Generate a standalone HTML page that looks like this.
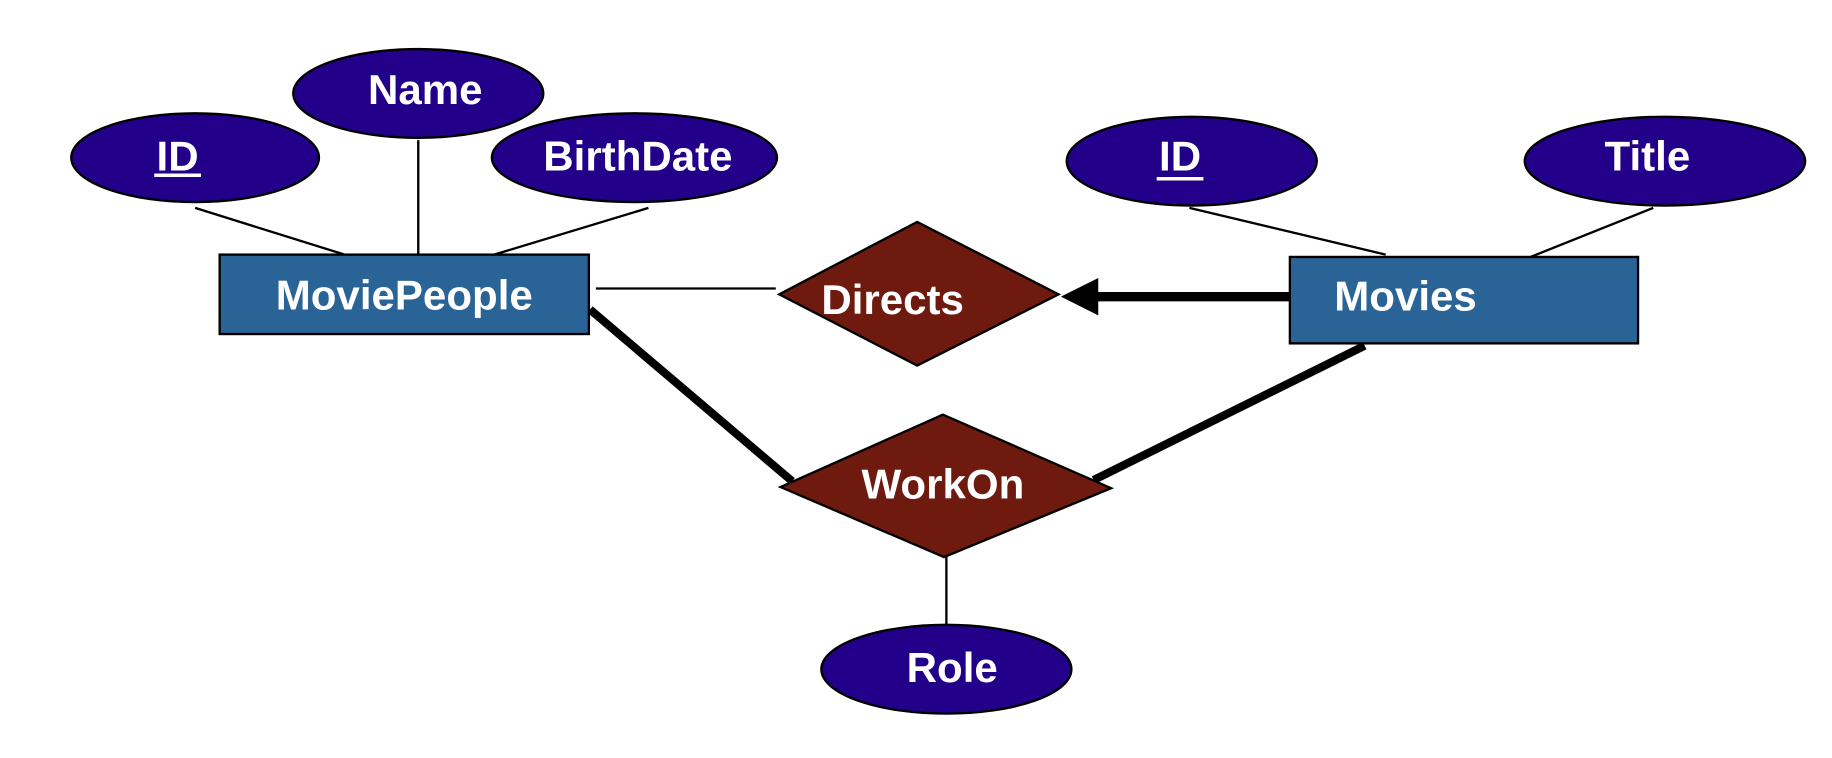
<!DOCTYPE html>
<html><head><style>html,body{margin:0;padding:0;background:#fff;}svg{display:block}</style></head>
<body>
<svg width="1832" height="758" viewBox="0 0 1568 649" preserveAspectRatio="none" xmlns="http://www.w3.org/2000/svg">
<g stroke="#000" fill="none">
<line x1="167" y1="178" x2="295" y2="218" stroke-width="2"/>
<line x1="358" y1="120" x2="358" y2="218" stroke-width="2"/>
<line x1="555" y1="178" x2="423" y2="218" stroke-width="2"/>
<line x1="1018" y1="178" x2="1186" y2="218" stroke-width="2"/>
<line x1="1415" y1="178" x2="1305" y2="222" stroke-width="2"/>
<line x1="510" y1="247" x2="664" y2="247" stroke-width="2"/>
<line x1="1104" y1="254" x2="935" y2="254" stroke-width="8"/>
<line x1="505" y1="265" x2="678" y2="412" stroke-width="7"/>
<line x1="1168" y1="296" x2="936" y2="411" stroke-width="7"/>
<line x1="810" y1="477" x2="810" y2="537" stroke-width="2"/>
</g>
<polygon points="908,254 940,238 940,270" fill="#000"/>
<g fill="#22008a" stroke="#000" stroke-width="2">
<ellipse cx="167" cy="135" rx="106" ry="38"/>
<ellipse cx="358" cy="80" rx="107" ry="38"/>
<ellipse cx="543" cy="135" rx="122" ry="38"/>
<ellipse cx="1020" cy="138" rx="107" ry="38"/>
<ellipse cx="1425" cy="138" rx="120" ry="38"/>
<ellipse cx="810" cy="573" rx="107" ry="38"/>
</g>
<g fill="#2a6496" stroke="#000" stroke-width="2">
<rect x="188" y="218" width="316" height="68"/>
<rect x="1104" y="220" width="298" height="74"/>
</g>
<g fill="#6f1a0f" stroke="#000" stroke-width="2">
<polygon points="667,252 785,190 906,252 785,313"/>
<polygon points="668,417 807,355 951,418 808,477"/>
</g>
<g fill="#fff" font-family="Liberation Sans, sans-serif" font-weight="bold" font-size="36" text-anchor="middle">
<text x="152" y="146">ID</text>
<line x1="132" y1="150" x2="172" y2="150" stroke="#fff" stroke-width="3"/>
<text x="364" y="89">Name</text>
<text x="546" y="146">BirthDate</text>
<text x="1010" y="146">ID</text>
<line x1="990" y1="153" x2="1030" y2="153" stroke="#fff" stroke-width="3"/>
<text x="1410" y="146">Title</text>
<text x="815" y="584">Role</text>
<text x="346" y="265">MoviePeople</text>
<text x="1203" y="266">Movies</text>
<text x="764" y="269">Directs</text>
<text x="807" y="427">WorkOn</text>
</g>
</svg>
</body></html>
